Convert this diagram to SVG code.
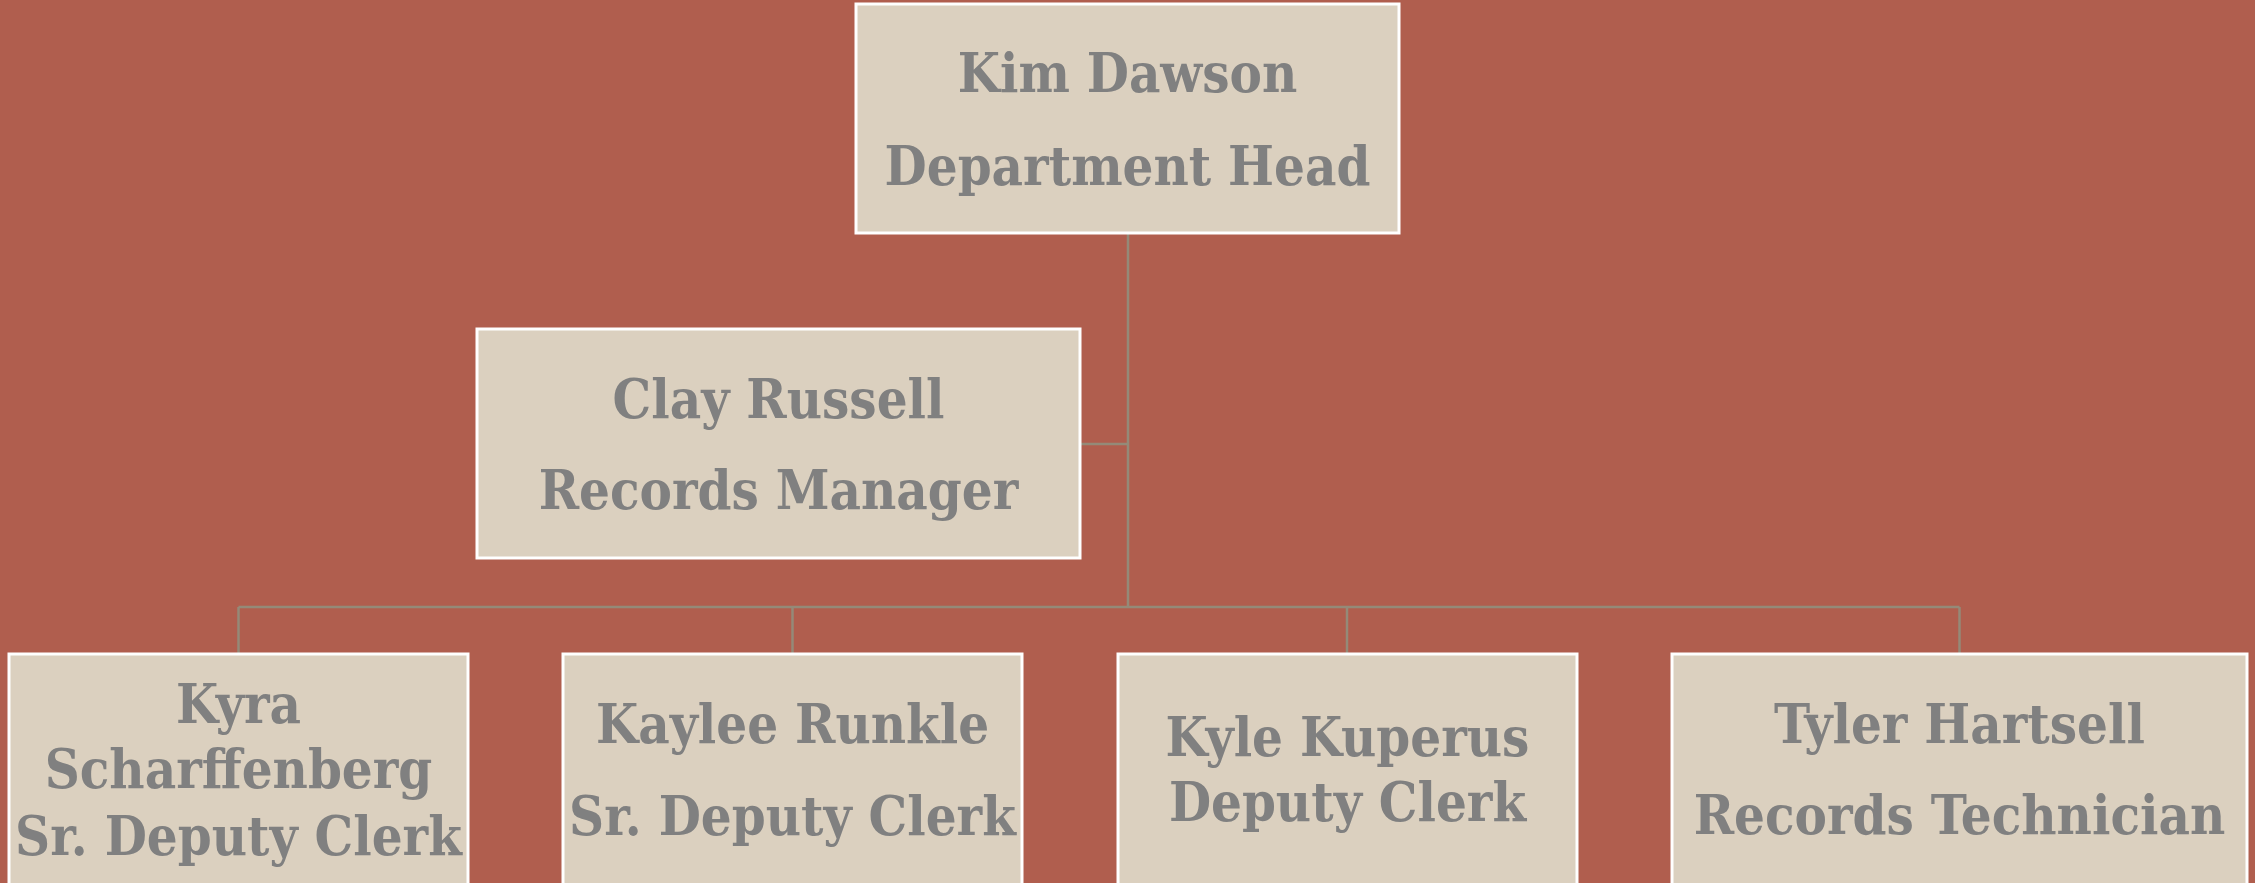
<svg xmlns="http://www.w3.org/2000/svg" width="2255" height="883" viewBox="0 0 2255 883">
<style>
.box{fill:#dbd0bf;stroke:#ffffff;stroke-width:3}
.t{font-family:"DejaVu Serif Condensed","DejaVu Serif","Liberation Serif",serif;font-weight:bold;font-size:54px;fill:#808080;text-anchor:middle}
.c{stroke:#948a78;stroke-width:2.5;fill:none}
</style>
<rect x="0" y="0" width="2255" height="883" fill="#b05e4e"/>
<g id="connectors">
<path class="c" d="M1128,233 V607"/>
<path class="c" d="M1080,444 H1128"/>
<path class="c" d="M238.5,607 H1959.5"/>
<path class="c" d="M238.5,607 V654"/>
<path class="c" d="M792.5,607 V654"/>
<path class="c" d="M1347,607 V654"/>
<path class="c" d="M1959.5,607 V654"/>
</g>
<g id="kim">
<rect class="box" x="856" y="4" width="543" height="229"/>
<text class="t" x="1127.5" y="92">Kim Dawson</text>
<text class="t" x="1127.5" y="185">Department Head</text>
</g>
<g id="clay">
<rect class="box" x="477" y="329" width="603" height="229"/>
<text class="t" x="778.5" y="418">Clay Russell</text>
<text class="t" x="778.5" y="509">Records Manager</text>
</g>
<g id="kyra">
<rect class="box" x="9" y="654" width="459" height="232"/>
<text class="t" x="238.5" y="723">Kyra</text>
<text class="t" x="238.5" y="788">Scharffenberg</text>
<text class="t" x="238.5" y="855">Sr. Deputy Clerk</text>
</g>
<g id="kaylee">
<rect class="box" x="563" y="654" width="459" height="232"/>
<text class="t" x="792.5" y="743">Kaylee Runkle</text>
<text class="t" x="792.5" y="835">Sr. Deputy Clerk</text>
</g>
<g id="kyle">
<rect class="box" x="1118" y="654" width="459" height="232"/>
<text class="t" x="1347.5" y="756">Kyle Kuperus</text>
<text class="t" x="1347.5" y="821">Deputy Clerk</text>
</g>
<g id="tyler">
<rect class="box" x="1672" y="654" width="575" height="232"/>
<text class="t" x="1959.5" y="743">Tyler Hartsell</text>
<text class="t" x="1959.5" y="834">Records Technician</text>
</g>
</svg>
